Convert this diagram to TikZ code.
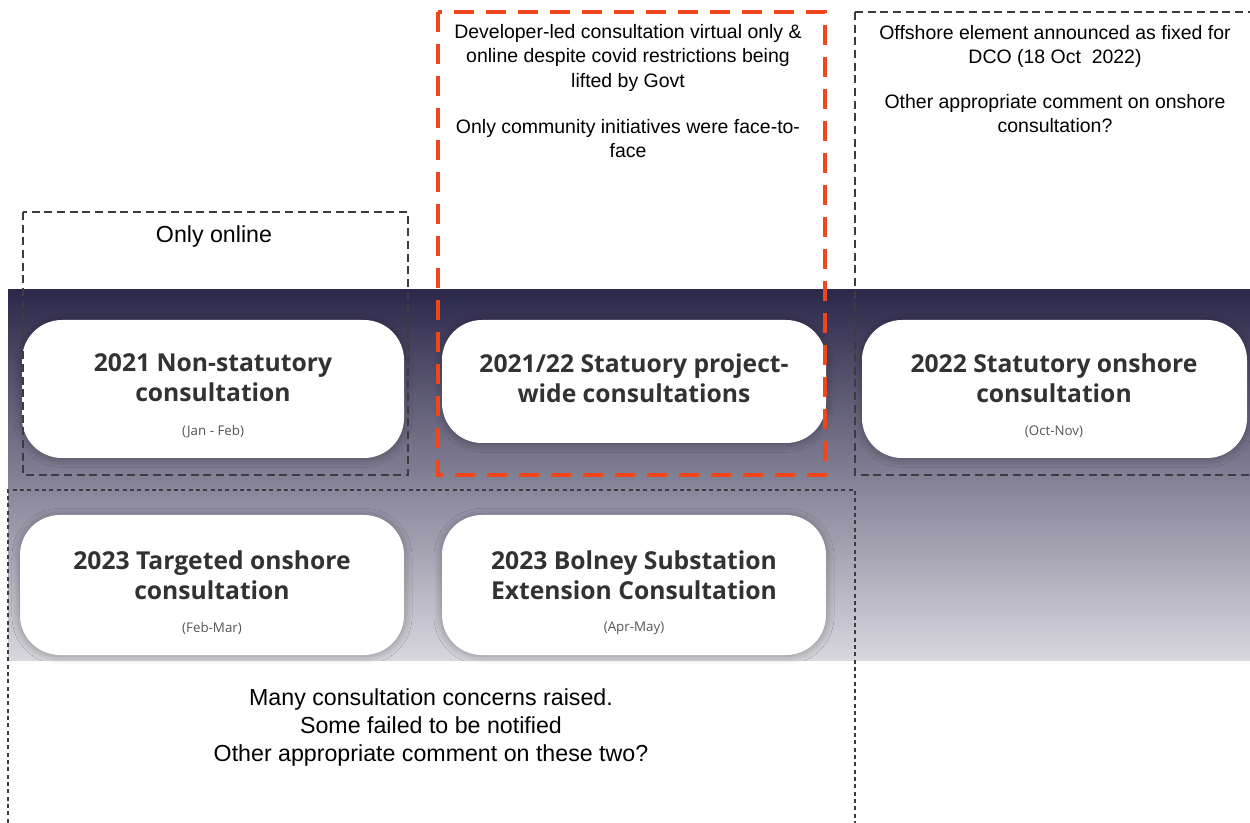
\documentclass[tikz,border=0pt]{standalone}
\usepackage{fontspec}
\setmainfont{Liberation Sans}
\newfontfamily\titlefont{Open Sans}
\usetikzlibrary{shadows.blur}
\definecolor{bandtop}{RGB}{44,40,74}
\definecolor{bandbot}{RGB}{216,215,222}
\definecolor{dashgray}{RGB}{60,60,64}
\definecolor{redline}{RGB}{240,70,30}
\definecolor{titlecol}{RGB}{50,50,50}
\definecolor{subcol}{RGB}{85,85,85}
\tikzset{
  pill/.style={fill=white, rounded corners=30pt, draw=none,
    blur shadow={shadow xshift=0pt, shadow yshift=-1pt, shadow blur radius=6pt, shadow opacity=30, shadow blur steps=10}},
  grayframe/.style={draw=dashgray, line width=1.1pt, dash pattern=on 6pt off 3.5pt},
  redframe/.style={draw=redline, line width=3pt, dash pattern=on 15pt off 9pt},
  dotframe/.style={draw=dashgray, line width=1pt, dash pattern=on 3pt off 2.5pt},
  boxtitle/.style={font=\titlefont\bfseries\fontsize{18.5}{22.5}\selectfont, text=titlecol, align=center, inner sep=0pt},
  boxsub/.style={font=\titlefont\fontsize{10}{12}\selectfont, text=subcol, inner sep=0pt},
  note/.style={font=\fontsize{14.6}{17.8}\selectfont, align=center, inner sep=0pt},
  rednote/.style={font=\fontsize{14.6}{18.3}\selectfont, align=center, inner sep=0pt},
  bignote/.style={font=\fontsize{17.4}{21}\selectfont, align=center, inner sep=0pt}
}
\begin{document}
\begin{tikzpicture}[x=0.75pt,y=-0.75pt]
\useasboundingbox (0,0) rectangle (1250,823);
% band
\shade[top color=bandtop, bottom color=bandbot] (8,290) rectangle (1250,660);
% pills
\path[pill] (22,320) rectangle (404,458);
\path[pill] (442,320) rectangle (826,443);
\path[pill] (862,320) rectangle (1247,458);
\path[pill] (20,515) rectangle (404,655);
\path[pill] (442,515) rectangle (826,655);
% titles
\node[boxtitle] (t1) at (213,378) {2021 Non-statutory\\consultation};
\node[boxsub] (s1) at (213,432) {(Jan - Feb)};
\node[boxtitle] (t2) at (634,378) {2021/22 Statuory project-\\wide consultations};
\node[boxtitle] (t3) at (1054,378) {2022 Statutory onshore\\consultation};
\node[boxsub] (s3) at (1054,432) {(Oct-Nov)};
\node[boxtitle] (t4) at (212,575) {2023 Targeted onshore\\consultation};
\node[boxsub] (s4) at (212,628) {(Feb-Mar)};
\node[boxtitle] (t5) at (634,575) {2023 Bolney Substation\\Extension Consultation};
\node[boxsub] (s5) at (634,628) {(Apr-May)};
% frames
\draw[grayframe] (23,212) rectangle (408,475);
\draw[grayframe] (855,12) -- (855,475) -- (1252,475);
\draw[grayframe] (855,12) -- (1252,12);
\draw[dotframe] (8,830) -- (8,490) -- (855,490) -- (855,830);
\draw[redframe] (438,12) rectangle (825,475);
% notes
\node[bignote] (n1) at (214,237) {Only online};
\node[rednote, anchor=north] (n2) at (628,24) {Developer-led consultation virtual only \&\\online despite covid restrictions being\\lifted by Govt\\[16.2pt]Only community initiatives were face-to-\\face};
\node[note, anchor=north] (n3) at (1055,25) {Offshore element announced as fixed for\\DCO (18 Oct~~2022)\\[16.2pt]Other appropriate comment on onshore\\consultation?};
\node[bignote, anchor=north] (n4) at (431,688) {Many consultation concerns raised.\\Some failed to be notified\\Other appropriate comment on these two?};
\end{tikzpicture}
\end{document}
